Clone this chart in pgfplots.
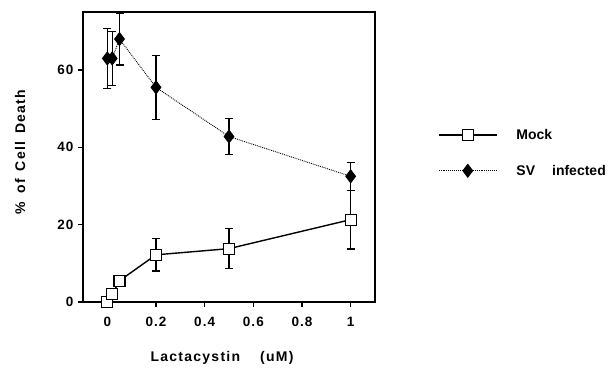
\documentclass[border=0pt]{standalone}
\usepackage{pgfplots}
\pgfplotsset{compat=1.18}
\usepackage{fontspec}
\setmainfont{Liberation Sans}
\newfontfamily\lab[LetterSpace=9]{Liberation Sans}
\newfontfamily\tck[LetterSpace=8]{Liberation Sans}
\begin{document}
\begin{tikzpicture}[x=1pt,y=1pt]
\path[use as bounding box] (0,0) rectangle (610,372);
\begin{axis}[
  at={(83pt,70pt)}, anchor=south west,
  scale only axis, width=292pt, height=290pt,
  xmin=-0.1, xmax=1.1, ymin=0, ymax=75,
  xtick={0,0.2,0.4,0.6,0.8,1},
  xticklabels={0,0.2,0.4,0.6,0.8,1},
  ytick={0,20,40,60},
  tick align=outside, tick pos=left,
  major tick length=5pt,
  axis line style={line width=1.3pt},
  every tick/.style={black, line width=1.2pt},
  ticklabel style={font=\fontsize{13.5}{16}\selectfont\tck\bfseries},
  xticklabel style={yshift=-7pt},
  yticklabel style={xshift=-1pt},
  /pgf/number format/assume math mode=true,
  legend style={at={(1.205,0.514)}, anchor=west, draw=none, fill=none,
    font=\fontsize{14}{16}\selectfont\bfseries, row sep=20pt, column sep=17pt},
  legend cell align=left,
  legend image code/.code={
    \draw[#1, mark=none] (0pt,0pt) -- (58pt,0pt);
    \path[#1] plot coordinates {(29pt,0pt)};
  },
  clip=false,
]
\addplot[black, line width=1.4pt, mark=square*, mark options={fill=white, line width=1.1pt, solid}, mark size=5.5pt,
  error bars/.cd, y dir=both, y explicit, error mark options={rotate=90, mark size=4pt, line width=1.2pt}, error bar style={line width=1.2pt}]
  coordinates {
  (0,0) +- (0,0)
  (0.02,2) +- (0,0)
  (0.05,5.5) +- (0,0)
  (0.2,12.2) +- (0,4.2)
  (0.5,13.8) +- (0,5.2)
  (1,21.3) +- (0,7.6)
  };
\addlegendentry{Mock}
\addplot[black, line width=0.9pt, densely dotted, mark=diamond*, mark options={fill=black, solid}, mark size=6.5pt,
  error bars/.cd, y dir=both, y explicit, error mark options={rotate=90, mark size=4pt, line width=1.2pt}, error bar style={line width=1.2pt, solid}]
  coordinates {
  (0,63) +- (0,7.7)
  (0.02,63) +- (0,7)
  (0.05,68) +- (0,6.7)
  (0.2,55.5) +- (0,8.3)
  (0.5,42.8) +- (0,4.7)
  (1,32.5) +- (0,3.6)
  };
\addlegendentry{SV\hspace{17pt}infected}
\end{axis}
\node[font=\fontsize{14}{16}\selectfont\lab\bfseries, anchor=base] at (222,11) {Lactacystin\hspace{20pt}(uM)};
\node[font=\fontsize{14}{16}\selectfont\lab\bfseries, rotate=90, anchor=base] at (25,220) {\%\hspace{8pt}of\hspace{8pt}Cell\hspace{8pt}Death};
\end{tikzpicture}
\end{document}
